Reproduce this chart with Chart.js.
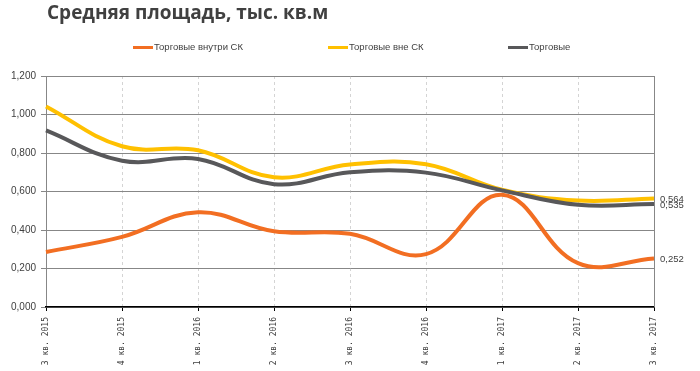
<!DOCTYPE html>
<html><head><meta charset="utf-8">
<script src="https://cdn.jsdelivr.net/npm/chart.js@4.4.1/dist/chart.umd.min.js"></script>
<style>html,body{margin:0;padding:0;background:#fff}canvas{display:block}</style>
</head><body><canvas id="c" width="700" height="371"></canvas>
<script>
const categories = ['3 кв. 2015','4 кв. 2015','1 кв. 2016','2 кв. 2016','3 кв. 2016','4 кв. 2016','1 кв. 2017','2 кв. 2017','3 кв. 2017'];
const insideSC  = [0.286, 0.364, 0.492, 0.393, 0.380, 0.275, 0.583, 0.228, 0.252];
const outsideSC = [1.042, 0.835, 0.814, 0.674, 0.740, 0.742, 0.609, 0.553, 0.564];
const retail    = [0.917, 0.760, 0.769, 0.638, 0.700, 0.698, 0.606, 0.531, 0.535];
const seriesNames = ['Торговые внутри СК', 'Торговые вне СК', 'Торговые'];
const titleText = 'Средняя площадь, тыс. кв.м';
const endLabels = ['0,252', '0,564', '0,535'];
const seriesColors = ['#F26E22', '#FFC000', '#58585A'];

const fmt = v => v.toFixed(3).replace('.', ',');

const decor = {
  id: 'decor',
  afterDraw(chart) {
    const ctx = chart.ctx;
    const a = chart.chartArea;
    ctx.save();
    // title
    ctx.fillStyle = '#404040';
    ctx.font = 'bold 19px "Open Sans"';
    ctx.textBaseline = 'middle';
    ctx.textAlign = 'left';
    ctx.fillText(titleText, 47, 14);
    // legend
    const lx = [133, 328, 508];
    ctx.font = '9.5px "Liberation Sans"';
    chart.data.datasets.forEach((ds, i) => {
      ctx.fillStyle = ds.borderColor;
      ctx.fillRect(lx[i], 46, 20, 3);
      ctx.fillStyle = '#404040';
      ctx.fillText(ds.label, lx[i] + 21, 47.5);
    });
    // right border
    ctx.strokeStyle = '#878787';
    ctx.lineWidth = 1;
    ctx.beginPath();
    ctx.moveTo(Math.round(a.right) + 0.5, a.top);
    ctx.lineTo(Math.round(a.right) + 0.5, a.bottom);
    ctx.stroke();
    // end labels
    ctx.font = '9.5px "Liberation Sans"';
    ctx.fillStyle = '#404040';
    chart.data.datasets.forEach((ds, i) => {
      const meta = chart.getDatasetMeta(i);
      const p = meta.data[meta.data.length - 1];
      ctx.fillText(endLabels[i], a.right + 6, p.y + 1);
    });
    ctx.restore();
  }
};

new Chart(document.getElementById('c'), {
  type: 'line',
  data: {
    labels: categories,
    datasets: [
      { label: seriesNames[0], data: insideSC, borderColor: seriesColors[0], order: 2 },
      { label: seriesNames[1], data: outsideSC, borderColor: seriesColors[1], order: 3 },
      { label: seriesNames[2], data: retail, borderColor: seriesColors[2], order: 1 }
    ].map(d => Object.assign(d, { borderWidth: 4, pointRadius: 0, tension: 0.4, fill: false, backgroundColor: d.borderColor }))
  },
  options: {
    responsive: false,
    animation: false,
    layout: { padding: { top: 76, right: 46, left: 0, bottom: 0 } },
    plugins: { legend: { display: false }, title: { display: false }, tooltip: { enabled: false } },
    scales: {
      x: {
        offset: false,
        afterFit: s => { s.height = 64; },
        grid: { color: '#d4d4d4', lineWidth: 1, tickColor: '#000', tickLength: 4, tickBorderDash: [] },
        border: { color: '#000', width: 1.5, dash: [3, 3], z: 1 },
        ticks: { autoSkip: false, minRotation: 90, maxRotation: 90, padding: 6, color: '#404040', font: { family: '"DejaVu Sans Mono"', size: 8 } }
      },
      y: {
        min: 0, max: 1.2,
        afterFit: s => { s.width = 46; },
        grid: { color: '#878787', lineWidth: 1, tickColor: '#878787', tickLength: 5 },
        border: { color: '#878787', width: 1 },
        ticks: { stepSize: 0.2, padding: 5, color: '#404040', font: { family: '"Liberation Sans"', size: 10 }, callback: v => fmt(v) }
      }
    }
  },
  plugins: [decor]
});
</script>
</body></html>
